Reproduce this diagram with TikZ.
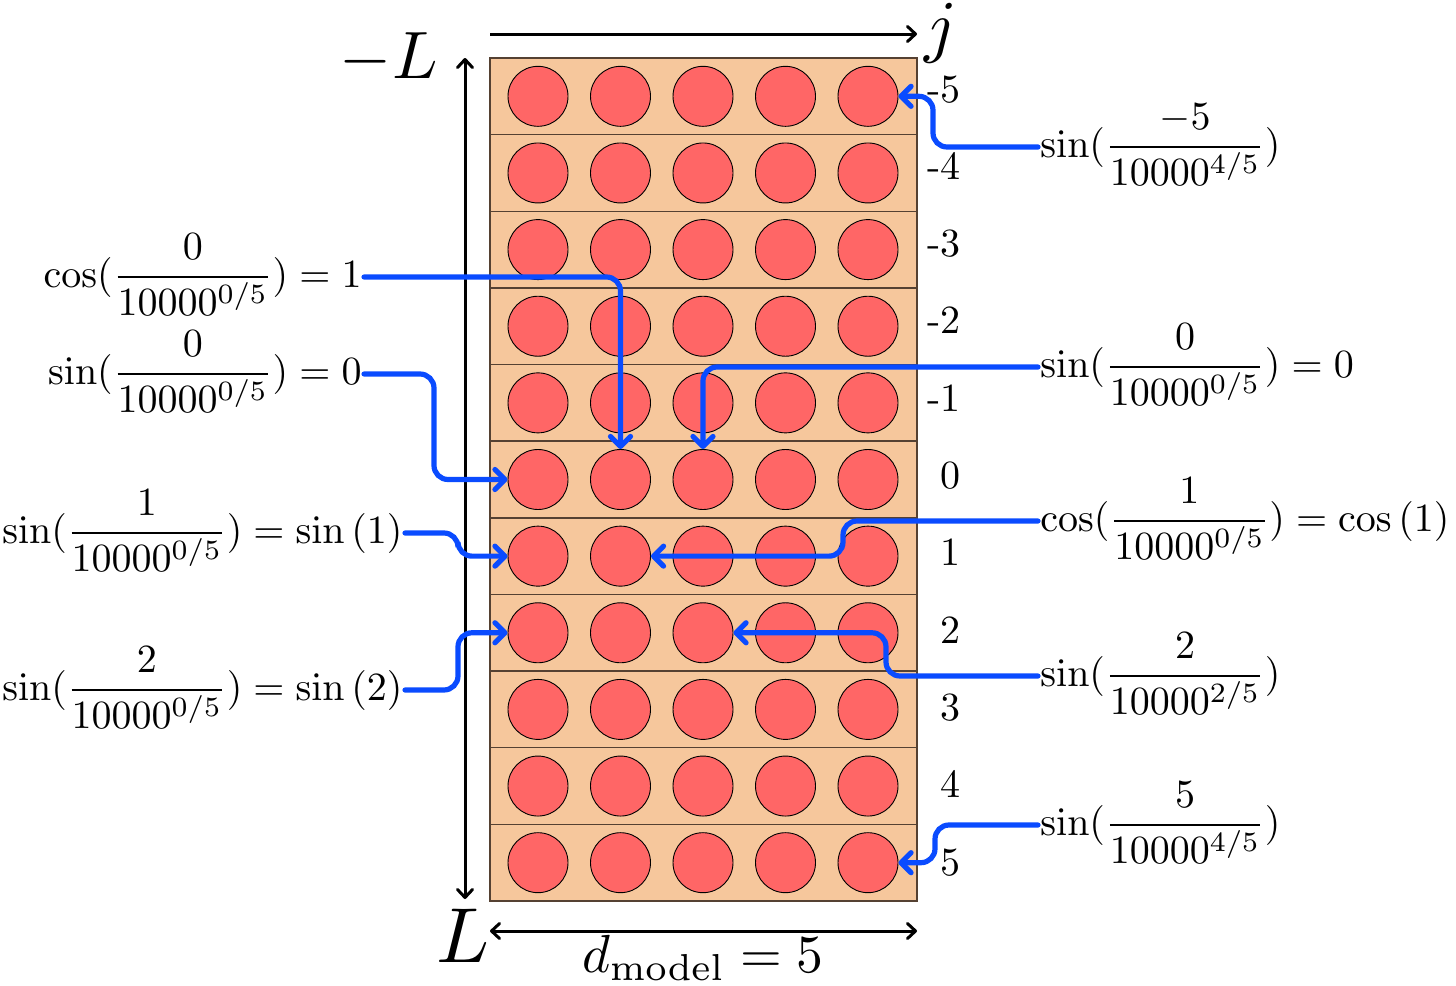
\RequirePackage{fix-cm}
\documentclass[tikz,border=0pt]{standalone}
\usepackage{amsmath}
\usepackage{graphicx}
\usetikzlibrary{arrows.meta}
\definecolor{peach}{RGB}{246,199,156}
\definecolor{circ}{RGB}{255,102,102}
\definecolor{conblue}{RGB}{10,75,255}
\definecolor{rowedge}{RGB}{85,65,50}
\newcommand{\fsc}[1]{\scalebox{2.0}{#1}}
\begin{document}
\begin{tikzpicture}[x=0.5pt,y=-0.5pt,
  rowbox/.style={fill=peach, draw=rowedge, line width=0.7pt},
  dot/.style={circle, minimum size=30pt, inner sep=0pt, fill=circ, draw=black, line width=0.45pt},
  lbl/.style={inner sep=1pt, font=\fontsize{10}{12}\selectfont},
  rowlbl/.style={inner sep=0pt, font=\fontsize{10}{12}\selectfont},
  biglbl/.style={inner sep=0pt, font=\fontsize{10}{12}\selectfont},
  axisline/.style={line width=1.5pt, black},
  btip/.tip={Straight Barb[length=4pt,width=7.5pt,round]},
  conn/.style={line width=2.6pt, conblue, rounded corners=7pt, line cap=round, -{Straight Barb[length=5pt,width=10pt,round]}},
]
\useasboundingbox (0,0) rectangle (1456,985);

% rows and circles
\foreach \i in {0,...,10} {
  \pgfmathsetmacro\ytop{58+76.636*\i}
  \pgfmathsetmacro\ybot{58+76.636*(\i+1)}
  \pgfmathsetmacro\yc{58+76.636*(\i+0.5)}
  \draw[rowbox] (490,\ytop) rectangle (917,\ybot);
  \foreach \k in {0,...,4} {
    \node[dot] (c-\i-\k) at ({538+82.5*\k},\yc) {};
  }
}

% row labels
\foreach \i/\t in {0/-5,1/-4,2/-3,3/-2,4/-1,5/0,6/1,7/2,8/3,9/4,10/5} {
  \node[rowlbl, anchor=base east] (r-\i) at (961,{102+77.3*\i}) {\fsc{\t}};
}

% axes
\coordinate (tl) at (490,34);
\coordinate (tr) at (917,34);
\coordinate (vt) at (465,58);
\coordinate (vb) at (465,899);
\coordinate (bl) at (490,931);
\coordinate (br) at (917,931);
\draw[axisline, -btip] (tl) -- (tr);
\draw[axisline, btip-btip] (vb) -- (vt);
\draw[axisline, btip-btip] (bl) -- (br);

\node[biglbl, anchor=base east] (mL) at (438,78) {\scalebox{3.35}{$-L$}};
\node[biglbl, anchor=base west] (pL) at (436,962) {\scalebox{3.9}{$L$}};
\node[biglbl, anchor=base west] (jl) at (924,49) {\scalebox{3.5}{$j$}};
\node[biglbl, anchor=base] (dm) at (703,972) {\scalebox{2.68}{$d_{\mathrm{model}}=5$}};

% formula labels (baseline = bar + 10px)
\node[lbl, anchor=base east] (L1) at (364,287) {\fsc{$\cos(\dfrac{0}{10000^{0/5}})=1$}};
\node[lbl, anchor=base east] (L2) at (364,384) {\fsc{$\sin(\dfrac{0}{10000^{0/5}})=0$}};
\node[lbl, anchor=base east] (L3) at (405,543) {\fsc{$\sin(\dfrac{1}{10000^{0/5}})=\sin\left(1\right)$}};
\node[lbl, anchor=base east] (L4) at (405,700) {\fsc{$\sin(\dfrac{2}{10000^{0/5}})=\sin\left(2\right)$}};

\node[lbl, anchor=base west] (R1) at (1038,157) {\fsc{$\sin(\dfrac{-5}{10000^{4/5}})$}};
\node[lbl, anchor=base west] (R2) at (1038,377) {\fsc{$\sin(\dfrac{0}{10000^{0/5}})=0$}};
\node[lbl, anchor=base west] (R3) at (1038,531) {\fsc{$\cos(\dfrac{1}{10000^{0/5}})=\cos\left(1\right)$}};
\node[lbl, anchor=base west] (R4) at (1038,686) {\fsc{$\sin(\dfrac{2}{10000^{2/5}})$}};
\node[lbl, anchor=base west] (R5) at (1038,835) {\fsc{$\sin(\dfrac{5}{10000^{4/5}})$}};

% connectors
\draw[conn] ([yshift=5pt]L1.base east) -| (c-5-1.north);
\draw[conn] ([yshift=5pt]L2.base east) -- ++(70,0) |- (c-5-0.west);
\draw[conn] ([yshift=5pt]R2.base west) -| (c-5-2.north);
\draw[conn] ([yshift=5pt]L3.base east) -- ++(53,0) |- (c-6-0.west);
\draw[conn] ([yshift=5pt]L4.base east) -- ++(53,0) |- (c-7-0.west);
\draw[conn] ([yshift=5pt]R3.base west) -- ++(-195,0) |- (c-6-1.east);
\draw[conn] ([yshift=5pt]R4.base west) -- ++(-152,0) |- (c-7-2.east);
\draw[conn] ([yshift=5pt]R1.base west) -- ++(-105,0) |- (c-0-4.east);
\draw[conn] ([yshift=5pt]R5.base west) -- ++(-103,0) |- (c-10-4.east);
\end{tikzpicture}
\end{document}
